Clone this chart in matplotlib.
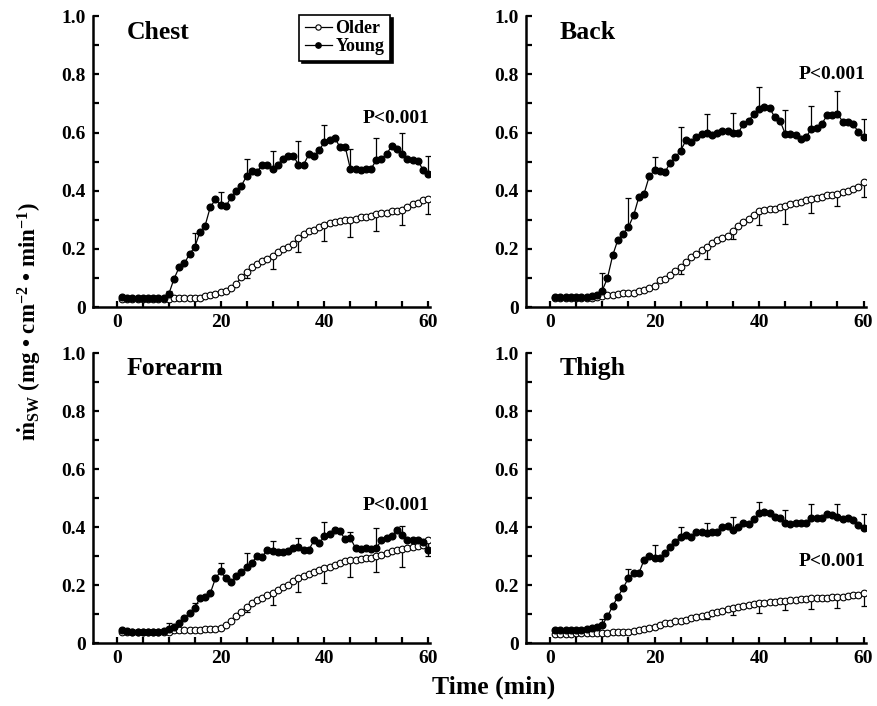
import numpy as np
import matplotlib
matplotlib.use("Agg")
import matplotlib.pyplot as plt
from matplotlib.ticker import MultipleLocator

plt.rcParams['font.family'] = ['Liberation Serif', 'DejaVu Serif']
plt.rcParams['font.weight'] = 'bold'
plt.rcParams['mathtext.fontset'] = 'custom'
plt.rcParams['mathtext.rm'] = 'Liberation Serif:bold'
plt.rcParams['mathtext.it'] = 'Liberation Serif:italic:bold'
plt.rcParams['mathtext.bf'] = 'Liberation Serif:bold'

time = np.arange(1, 61)
err_time = [10, 15, 20, 25, 30, 35, 40, 45, 50, 55, 60]

chest_young = [0.034, 0.033, 0.032, 0.031, 0.031, 0.031, 0.031, 0.031, 0.032, 0.045,
               0.097, 0.137, 0.150, 0.183, 0.206, 0.258, 0.280, 0.344, 0.370, 0.350,
               0.346, 0.378, 0.400, 0.418, 0.450, 0.467, 0.464, 0.490, 0.490, 0.475,
               0.490, 0.510, 0.520, 0.520, 0.490, 0.490, 0.525, 0.518, 0.540, 0.567,
               0.575, 0.582, 0.550, 0.552, 0.475, 0.475, 0.470, 0.475, 0.475, 0.506,
               0.510, 0.527, 0.554, 0.545, 0.527, 0.510, 0.506, 0.504, 0.472, 0.456]
chest_older = [0.029, 0.029, 0.029, 0.029, 0.029, 0.029, 0.029, 0.029, 0.029, 0.029,
               0.030, 0.030, 0.030, 0.030, 0.031, 0.033, 0.037, 0.040, 0.046, 0.052,
               0.057, 0.066, 0.080, 0.103, 0.120, 0.137, 0.149, 0.160, 0.166, 0.174,
               0.189, 0.200, 0.208, 0.218, 0.238, 0.250, 0.261, 0.266, 0.275, 0.284,
               0.289, 0.294, 0.295, 0.298, 0.300, 0.303, 0.309, 0.310, 0.313, 0.320,
               0.323, 0.325, 0.330, 0.332, 0.334, 0.344, 0.353, 0.357, 0.367, 0.372]
chest_young_err = [0.010, 0.050, 0.045, 0.060, 0.060, 0.080, 0.060, 0.070, 0.076, 0.073, 0.064]
chest_older_err = [0.000, 0.000, 0.000, 0.020, 0.042, 0.050, 0.055, 0.060, 0.057, 0.050, 0.052]

back_young = [0.035, 0.035, 0.035, 0.035, 0.035, 0.035, 0.036, 0.038, 0.040, 0.057,
              0.100, 0.178, 0.232, 0.252, 0.275, 0.315, 0.378, 0.390, 0.450, 0.470,
              0.467, 0.464, 0.496, 0.515, 0.538, 0.573, 0.567, 0.584, 0.596, 0.598,
              0.590, 0.598, 0.605, 0.607, 0.598, 0.598, 0.630, 0.641, 0.664, 0.680,
              0.687, 0.685, 0.653, 0.641, 0.596, 0.596, 0.593, 0.578, 0.584, 0.613,
              0.616, 0.630, 0.659, 0.659, 0.664, 0.638, 0.636, 0.630, 0.601, 0.584]
back_older = [0.030, 0.030, 0.030, 0.030, 0.030, 0.032, 0.032, 0.032, 0.034, 0.037,
              0.040, 0.043, 0.046, 0.048, 0.050, 0.050, 0.055, 0.060, 0.066, 0.074,
              0.092, 0.097, 0.112, 0.124, 0.137, 0.155, 0.172, 0.183, 0.195, 0.206,
              0.220, 0.231, 0.238, 0.246, 0.263, 0.280, 0.292, 0.304, 0.315, 0.330,
              0.334, 0.338, 0.338, 0.344, 0.346, 0.353, 0.357, 0.360, 0.367, 0.370,
              0.376, 0.380, 0.384, 0.387, 0.390, 0.395, 0.400, 0.407, 0.412, 0.430]
back_young_err = [0.060, 0.100, 0.045, 0.080, 0.066, 0.070, 0.078, 0.080, 0.077, 0.080, 0.063]
back_older_err = [0.000, 0.000, 0.000, 0.022, 0.040, 0.028, 0.046, 0.060, 0.047, 0.044, 0.050]

forearm_young = [0.045, 0.043, 0.040, 0.040, 0.040, 0.040, 0.040, 0.040, 0.041, 0.048,
                 0.057, 0.071, 0.086, 0.103, 0.120, 0.155, 0.160, 0.172, 0.224, 0.247,
                 0.224, 0.210, 0.230, 0.245, 0.262, 0.276, 0.300, 0.297, 0.322, 0.316,
                 0.313, 0.313, 0.316, 0.328, 0.331, 0.322, 0.322, 0.354, 0.345, 0.368,
                 0.377, 0.390, 0.385, 0.358, 0.362, 0.328, 0.324, 0.328, 0.324, 0.328,
                 0.354, 0.362, 0.368, 0.390, 0.374, 0.356, 0.354, 0.354, 0.350, 0.322]
forearm_older = [0.040, 0.040, 0.040, 0.040, 0.040, 0.040, 0.040, 0.040, 0.040, 0.040,
                 0.045, 0.045, 0.045, 0.045, 0.045, 0.045, 0.050, 0.050, 0.050, 0.052,
                 0.063, 0.078, 0.092, 0.109, 0.124, 0.138, 0.149, 0.157, 0.167, 0.172,
                 0.184, 0.193, 0.201, 0.213, 0.224, 0.232, 0.239, 0.244, 0.251, 0.259,
                 0.264, 0.270, 0.276, 0.282, 0.285, 0.287, 0.290, 0.293, 0.295, 0.299,
                 0.305, 0.310, 0.316, 0.320, 0.324, 0.328, 0.333, 0.336, 0.339, 0.356]
forearm_young_err = [0.020, 0.020, 0.030, 0.050, 0.035, 0.030, 0.050, 0.020, 0.070, 0.030, 0.030]
forearm_older_err = [0.000, 0.000, 0.000, 0.015, 0.040, 0.046, 0.052, 0.057, 0.055, 0.060, 0.056]

thigh_young = [0.045, 0.045, 0.045, 0.045, 0.045, 0.047, 0.050, 0.052, 0.055, 0.063,
               0.092, 0.128, 0.160, 0.190, 0.224, 0.241, 0.241, 0.287, 0.300, 0.292,
               0.292, 0.310, 0.333, 0.350, 0.367, 0.373, 0.365, 0.384, 0.384, 0.380,
               0.384, 0.384, 0.400, 0.404, 0.390, 0.400, 0.413, 0.410, 0.427, 0.447,
               0.453, 0.450, 0.436, 0.430, 0.415, 0.410, 0.413, 0.413, 0.413, 0.430,
               0.430, 0.433, 0.445, 0.440, 0.436, 0.427, 0.430, 0.424, 0.407, 0.396]
thigh_older = [0.032, 0.032, 0.033, 0.033, 0.034, 0.034, 0.034, 0.034, 0.034, 0.034,
               0.035, 0.037, 0.040, 0.040, 0.040, 0.042, 0.046, 0.049, 0.052, 0.057,
               0.063, 0.069, 0.071, 0.075, 0.078, 0.080, 0.086, 0.090, 0.094, 0.097,
               0.105, 0.109, 0.112, 0.117, 0.120, 0.126, 0.128, 0.132, 0.135, 0.138,
               0.140, 0.143, 0.143, 0.144, 0.147, 0.149, 0.149, 0.151, 0.151, 0.154,
               0.155, 0.155, 0.157, 0.158, 0.160, 0.160, 0.163, 0.165, 0.166, 0.172]
thigh_young_err = [0.020, 0.030, 0.045, 0.035, 0.035, 0.045, 0.040, 0.045, 0.050, 0.045, 0.050]
thigh_older_err = [0.000, 0.000, 0.000, 0.010, 0.015, 0.023, 0.035, 0.032, 0.037, 0.040, 0.044]

panels = [
    ("Chest", chest_young, chest_older, chest_young_err, chest_older_err, (60.3, 0.65)),
    ("Back", back_young, back_older, back_young_err, back_older_err, (60.3, 0.80)),
    ("Forearm", forearm_young, forearm_older, forearm_young_err, forearm_older_err, (60.3, 0.475)),
    ("Thigh", thigh_young, thigh_older, thigh_young_err, thigh_older_err, (60.3, 0.28)),
]

fig = plt.figure(figsize=(8.78, 7.06), dpi=100)
positions = [
    [0.106, 0.565, 0.384, 0.412],
    [0.599, 0.565, 0.387, 0.412],
    [0.106, 0.089, 0.384, 0.411],
    [0.599, 0.089, 0.387, 0.411],
]

for i, (name, young, older, yerr_y, yerr_o, ppos) in enumerate(panels):
    ax = fig.add_axes(positions[i])
    young = np.asarray(young)
    older = np.asarray(older)
    idx = np.array(err_time) - 1
    zeros = np.zeros(len(err_time))
    ax.errorbar(np.array(err_time), young[idx], yerr=[zeros, np.array(yerr_y)],
                fmt='none', ecolor='black', elinewidth=0.9, capsize=2.2, capthick=0.9, zorder=2)
    ax.errorbar(np.array(err_time), older[idx], yerr=[np.array(yerr_o), zeros],
                fmt='none', ecolor='black', elinewidth=0.9, capsize=2.2, capthick=0.9, zorder=2)
    ax.plot(time, older, '-o', color='black', lw=0.9, markersize=4.8,
            markerfacecolor='white', markeredgecolor='black', markeredgewidth=0.8,
            label='Older', zorder=3)
    ax.plot(time, young, '-o', color='black', lw=0.9, markersize=4.8,
            markerfacecolor='black', markeredgecolor='black', label='Young', zorder=4)

    ax.set_xlim(-4.6, 60.4)
    ax.set_ylim(0, 1.0)
    ax.spines['top'].set_visible(False)
    ax.spines['right'].set_visible(False)
    ax.spines['left'].set_linewidth(1.8)
    ax.spines['bottom'].set_linewidth(1.8)
    ax.set_xticks([0, 20, 40, 60])
    ax.xaxis.set_minor_locator(MultipleLocator(5))
    ax.set_yticks([0, 0.2, 0.4, 0.6, 0.8, 1.0])
    ax.set_yticklabels(['0', '0.2', '0.4', '0.6', '0.8', '1.0'])
    ax.yaxis.set_minor_locator(MultipleLocator(0.1))
    ax.tick_params(axis='both', which='both', direction='in', width=1.6,
                   labelsize=14, pad=5)
    ax.tick_params(axis='both', which='major', length=4)
    ax.tick_params(axis='both', which='minor', length=4)
    for lab in ax.get_xticklabels() + ax.get_yticklabels():
        lab.set_fontweight('bold')

    ax.text(0.1, 0.985, name, transform=ax.transAxes, ha='left', va='top',
            fontsize=18.5, fontweight='bold')
    ax.text(ppos[0], ppos[1], 'P<0.001', ha='right', va='center',
            fontsize=14, fontweight='bold')

    if i == 0:
        leg = ax.legend(loc='upper right', bbox_to_anchor=(0.88, 1.005),
                        borderaxespad=0, frameon=True, fancybox=False,
                        shadow={'color': 'black', 'alpha': 1.0},
                        edgecolor='black', handlelength=1.5, handletextpad=0.2,
                        labelspacing=0.05, borderpad=0.3, markerscale=0.8,
                        prop={'size': 13, 'weight': 'bold'})
        leg.get_frame().set_linewidth(1.2)

fig.text(0.034, 0.545, r'$\dot{\rm m}_{\rm SW}$ (mg • cm$^{-2}$ • min$^{-1}$)',
         rotation=90, ha='center', va='center', fontsize=16.5, fontweight='bold')
fig.text(0.562, 0.026, 'Time (min)', ha='center', va='center',
         fontsize=18.5, fontweight='bold')

fig.savefig('out.png', dpi=100)
